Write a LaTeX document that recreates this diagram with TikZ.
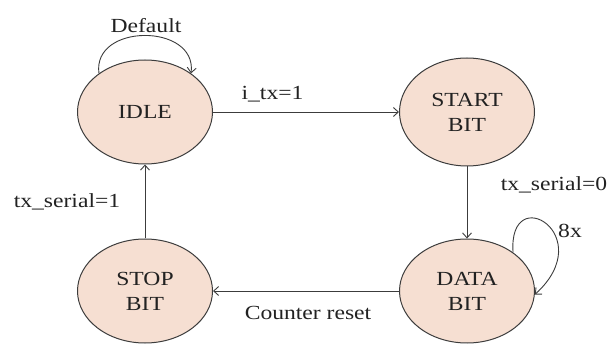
\documentclass[tikz,border=0pt]{standalone}
\usepackage{fontspec}
\setmainfont{Liberation Serif}[FakeStretch=1.18]
\usetikzlibrary{shapes.geometric,arrows.meta}
\definecolor{peach}{HTML}{F6DFD2}
\definecolor{edge}{HTML}{3C3C3C}
\definecolor{ink}{HTML}{222222}
\tikzset{
  state/.style={ellipse, draw=edge, line width=1pt, fill=peach,
    minimum width=135pt, minimum height=104pt, inner sep=0pt,
    align=center, text=ink, font=\fontsize{20}{25}\selectfont},
  lbl/.style={text=ink, inner sep=0pt, font=\fontsize{20}{24}\selectfont},
  arr/.style={draw=edge, line width=0.9pt, -{Straight Barb[length=5pt,width=9pt]}}
}
\begin{document}
\begin{tikzpicture}[x=1pt,y=-1pt]
\useasboundingbox (0,0) rectangle (610,344);
\node[state] (idle) at (145,112) {IDLE};
\node[state, minimum height=108pt] (start) at (467,112) {START\\BIT};
\node[state] (stop) at (145,291) {STOP\\BIT};
\node[state] (data) at (467,291) {DATA\\BIT};

\draw[arr] (idle) -- (start) node[lbl, pos=0.32, above=9pt] {i\_tx=1};
\draw[arr] (start) -- (data);
\draw[arr] (data) -- (stop);
\draw[arr] (stop) -- (idle);

\draw[arr] (idle.140) .. controls (92,23) and (197,23) .. (idle.40);
\draw[arr] (data.40) .. controls (508,180) and (600,235) .. (data.-3);

\node[lbl] (ldef) at (146,26) {Default};
\node[lbl] (ltx0) at (554,185) {tx\_serial=0};
\node[lbl] (l8x) at (570,231) {8x};
\node[lbl] (ltx1) at (67,202) {tx\_serial=1};
\node[lbl] (lcnt) at (308,313) {Counter reset};
\end{tikzpicture}
\end{document}
